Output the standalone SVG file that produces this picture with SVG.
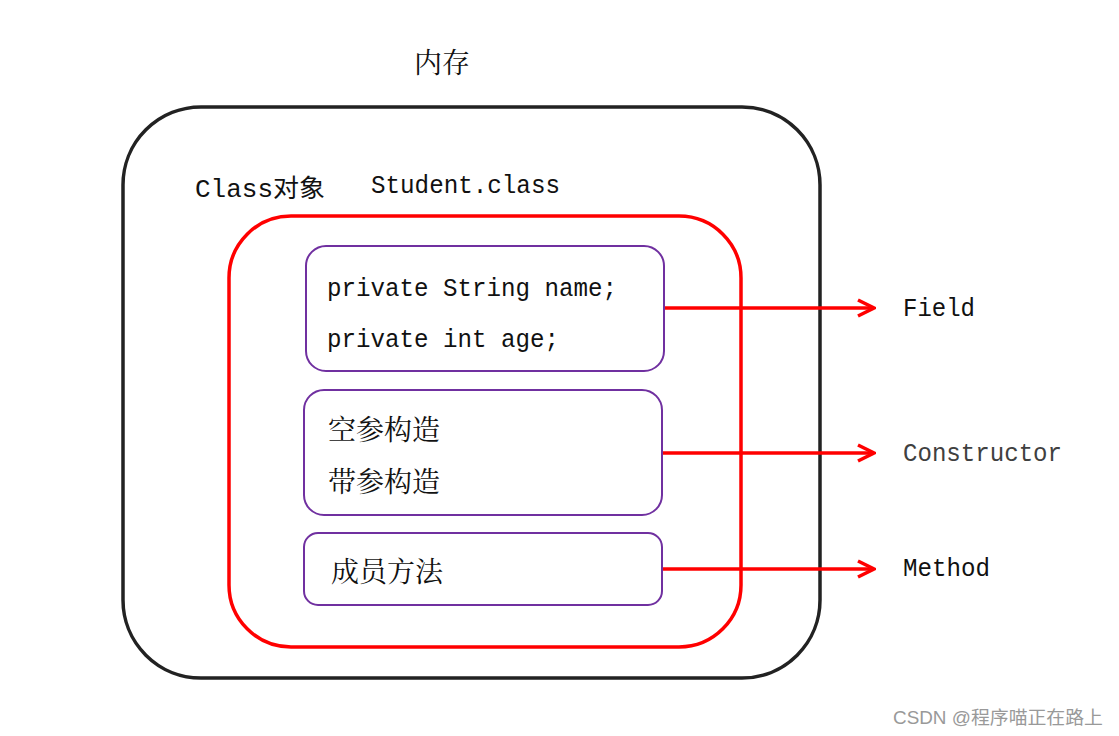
<svg xmlns="http://www.w3.org/2000/svg" width="1119" height="736" viewBox="0 0 1119 736">
<style>
.mono{font-family:"Liberation Mono","Noto Sans CJK SC",monospace;font-size:25px;fill:#111}
.cjk{font-family:"Noto Serif CJK SC","Noto Sans CJK SC",serif;font-size:28px;fill:#111}
.box{fill:#fff;stroke:#7030A0;stroke-width:2}
.arr{stroke:#ff0000;stroke-width:3.5;fill:none}
</style>
<defs>
<marker id="ah" viewBox="0 0 20 20" refX="18" refY="10" markerWidth="20" markerHeight="20" markerUnits="userSpaceOnUse" orient="auto">
<path d="M2,2 L18,10 L2,18" fill="none" stroke="#ff0000" stroke-width="3.5"/>
</marker>
</defs>
<rect width="1119" height="736" fill="#fff"/>
<g id="memory">
<text class="cjk" x="414" y="73">内存</text>
<rect x="123" y="107" width="697" height="571" rx="78" fill="none" stroke="#222" stroke-width="3.5"/>
</g>
<g id="classobj">
<text class="mono" x="195" y="197" textLength="130" lengthAdjust="spacingAndGlyphs">Class对象</text>
<text class="mono" x="371" y="193" textLength="189" lengthAdjust="spacingAndGlyphs">Student.class</text>
<rect x="229" y="216" width="512" height="431" rx="62" fill="none" stroke="#ff0000" stroke-width="3.5"/>
</g>
<g id="connectors">
<line class="arr" x1="664" y1="308" x2="874" y2="308" marker-end="url(#ah)"/>
<line class="arr" x1="662" y1="453" x2="874" y2="453" marker-end="url(#ah)"/>
<line class="arr" x1="662" y1="569" x2="874" y2="569" marker-end="url(#ah)"/>
</g>
<g id="fields">
<rect class="box" x="306" y="246" width="358" height="125" rx="20"/>
<text class="mono" x="327" y="296" textLength="290" lengthAdjust="spacingAndGlyphs">private String name;</text>
<text class="mono" x="327" y="347" textLength="232" lengthAdjust="spacingAndGlyphs">private int age;</text>
</g>
<g id="constructors">
<rect class="box" x="304" y="390" width="358" height="125" rx="20"/>
<text class="cjk" x="328" y="440">空参构造</text>
<text class="cjk" x="328" y="492">带参构造</text>
</g>
<g id="methods">
<rect class="box" x="304" y="533" width="358" height="72" rx="14"/>
<text class="cjk" x="331" y="582">成员方法</text>
</g>
<g id="labels">
<text class="mono" x="903" y="316" textLength="72" lengthAdjust="spacingAndGlyphs">Field</text>
<text class="mono" x="903" y="461" textLength="159" lengthAdjust="spacingAndGlyphs" style="fill:#404040">Constructor</text>
<text class="mono" x="903" y="576" textLength="87" lengthAdjust="spacingAndGlyphs">Method</text>
</g>
<text x="893" y="724" textLength="210" lengthAdjust="spacingAndGlyphs" style="font-family:'Liberation Sans','Noto Sans CJK SC',sans-serif;font-size:18px;fill:#999">CSDN @程序喵正在路上</text>
</svg>
